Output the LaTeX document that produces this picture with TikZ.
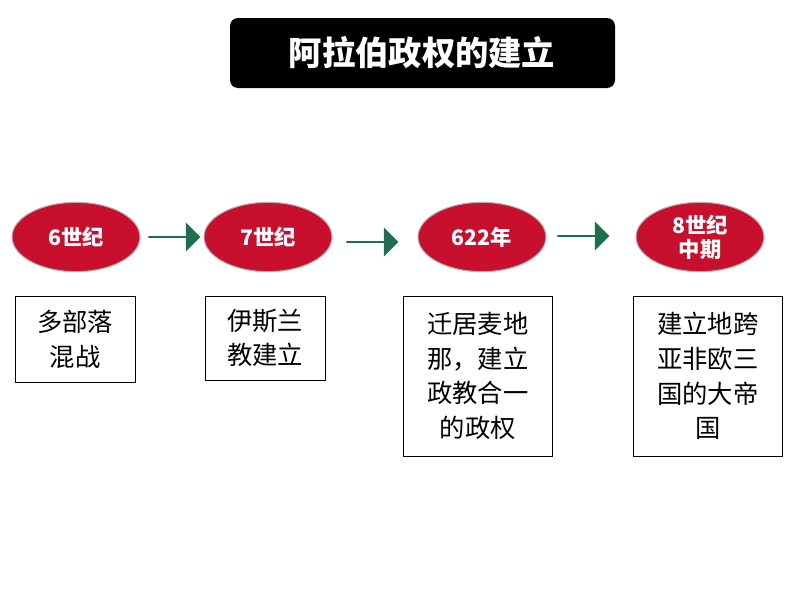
\documentclass[tikz,border=0pt]{standalone}
\usepackage{fontspec}
\setmainfont{Liberation Sans}
\newfontfamily\cjk{Noto Sans CJK SC}
\usetikzlibrary{shapes.arrows,shapes.geometric}
\definecolor{cc8102e}{RGB}{200,16,46}
\definecolor{c1f6e4e}{RGB}{31,110,78}
\begin{document}
\begin{tikzpicture}[y=-0.75pt,x=0.75pt, inner sep=0pt, outer sep=0pt]
  \useasboundingbox (0,0) rectangle (794,596);
  \tikzset{era/.style={ellipse,fill=cc8102e,draw=gray!60,line width=0.8pt,
      minimum width=96pt,minimum height=52pt,text=white,
      font=\cjk\fontsize{16}{18}\selectfont\bfseries,align=center},
    fact/.style={draw=black,line width=0.6pt,anchor=north west,
      font=\cjk\fontsize{19}{26}\selectfont,align=center},
    go/.style={single arrow,fill=c1f6e4e,minimum height=39pt,
      minimum width=22pt,single arrow head extend=3pt}}
  \path[fill=black,rounded corners=6pt] (230,18) rectangle (615,88);
  \path (422,53) node[text=white,font=\cjk\fontsize{25}{27}\selectfont\bfseries] (title) {阿拉伯政权的建立};
  \path (76,237) node[era] (e1) {6世纪};
  \path (268,237) node[era] (e2) {7世纪};
  \path (482,237) node[era] (e3) {622年};
  \path (700,237) node[era] (e4) {8世纪\\中期};
  \path (174,237) node[go] (a1) {};
  \path (372,242) node[go] (a2) {};
  \path (583,236) node[go] (a3) {};
  \path (15,296) node[fact,minimum width=90pt,minimum height=65pt] (f1) {多部落\\混战};
  \path (205,296) node[fact,minimum width=90pt,minimum height=63pt] (f2) {伊斯兰\\教建立};
  \path (403,296) node[fact,minimum width=112pt,minimum height=120pt] (f3) {迁居麦地\\那，建立\\政教合一\\的政权};
  \path (633,296) node[fact,minimum width=112pt,minimum height=120pt] (f4) {建立地跨\\亚非欧三\\国的大帝\\国};

\end{tikzpicture}
\end{document}
